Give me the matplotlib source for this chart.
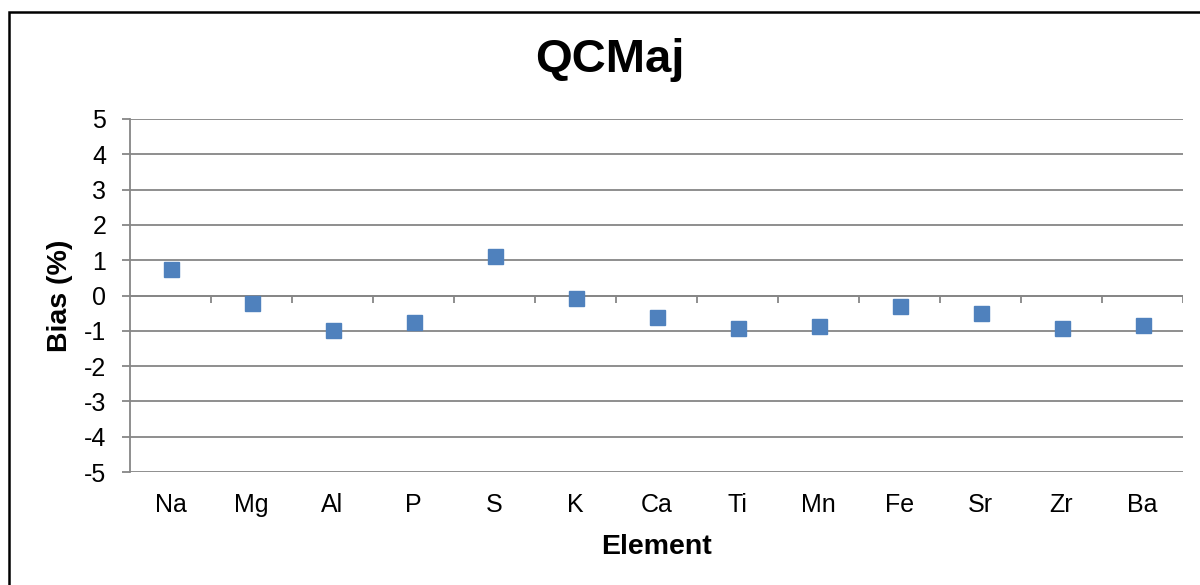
import numpy as np
import matplotlib
matplotlib.use("Agg")
from matplotlib import pyplot as plt
from matplotlib.patches import Rectangle

plt.rcParams['font.family'] = ['Liberation Sans', 'DejaVu Sans']
plt.rcParams['axes.unicode_minus'] = False

# bias per element (%)
elements = ["Na", "Mg", "Al", "P", "S", "K", "Ca", "Ti", "Mn", "Fe", "Sr", "Zr", "Ba"]
bias = [0.76, -0.22, -0.99, -0.74, 1.11, -0.07, -0.60, -0.93, -0.86, -0.31, -0.50, -0.93, -0.83]
yticks = list(range(-5, 6))

grey = "#868686"
blue = "#4F81BD"

fig = plt.figure(figsize=(12, 5.85), dpi=100)
ax = fig.add_axes([130/1200, 113/585, 1053/1200, 353/585])

x = np.arange(len(elements))
ax.plot(x, bias, ls="none", marker="s", ms=10.8, color=blue, mec=blue, zorder=5)

ax.set_xlim(-0.5, len(elements) - 0.5)
ax.set_ylim(yticks[0], yticks[-1])
ax.set_yticks(yticks)
ax.grid(axis="y", color=grey, lw=1.3)
ax.set_axisbelow(True)

for s in ["top", "right", "bottom"]:
    ax.spines[s].set_visible(False)
ax.spines["left"].set_color(grey)
ax.spines["left"].set_linewidth(1.3)

# category axis crossing at zero, ticks between categories
ax.axhline(0, color=grey, lw=1.3, zorder=2)
bounds = np.arange(len(elements) + 1) - 0.5
ax.vlines(bounds[1:], -0.2, 0, color=grey, lw=1.3, zorder=2)

ax.set_xticks(x)
ax.set_xticklabels(elements)
ax.tick_params(axis="x", length=0, pad=15, labelsize=18)
ax.tick_params(axis="y", length=6, width=1.3, color=grey, pad=11, labelsize=18)

ax.set_ylabel("Bias (%)", fontsize=20.5, fontweight="bold", labelpad=8)
ax.set_xlabel("Element", fontsize=20.5, fontweight="bold", labelpad=12)

fig.text(610/1200, 1 - 60/585, "QCMaj", fontsize=34, fontweight="bold",
         ha="center", va="center")

fig.patches.append(Rectangle((9/1200, -0.05), 1.1, 1 - 12/585 + 0.05,
                             transform=fig.transFigure, fill=False,
                             ec="black", lw=1.8))

fig.savefig("out.png", dpi=100)
